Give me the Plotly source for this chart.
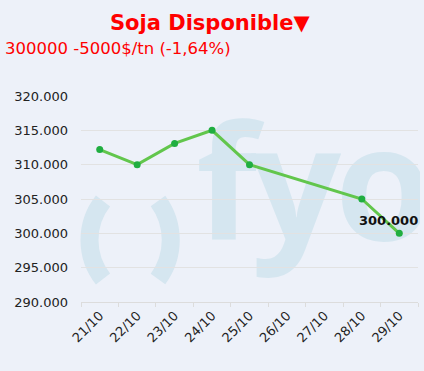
import base64
import plotly.graph_objects as go

dates = ["21/10", "22/10", "23/10", "24/10", "25/10", "26/10", "27/10", "28/10", "29/10"]
prices = [312200, 310000, 313100, 315000, 310000, None, None, 305000, 300000]
y_ticks = [290000, 295000, 300000, 305000, 310000, 315000, 320000]
title_text = "Soja Disponible▼"
subtitle_text = "300000 -5000$/tn (-1,64%)"
last_label = "300.000"

W, H = 424, 371
L, R, T, B = 81, 6, 96, 69
pw, ph = W - L - R, H - T - B

wm = "#d5e6f0"
svg = f'''<svg xmlns="http://www.w3.org/2000/svg" width="{W}" height="{H}" viewBox="0 0 {W} {H}">
<defs><clipPath id="c"><rect x="0" y="0" width="420" height="{H}"/></clipPath></defs>
<g clip-path="url(#c)">
<path d="M 103 201 A 63 63 0 0 0 103 279" fill="none" stroke="{wm}" stroke-width="18"/>
<path d="M 158 201 A 66 66 0 0 1 158 279" fill="none" stroke="{wm}" stroke-width="18"/>
<text x="196" y="240" font-family="Open Sans" font-weight="bold" font-size="158" fill="{wm}" letter-spacing="-6">fyo</text>
</g></svg>'''
src = "data:image/svg+xml;base64," + base64.b64encode(svg.encode()).decode()

fig = go.Figure()
fig.add_trace(go.Scatter(
    x=dates, y=prices, mode="lines+markers", connectgaps=True,
    line=dict(color="#62c64c", width=3),
    marker=dict(color="#20ae40", size=7),
    hoverinfo="skip", showlegend=False, cliponaxis=False,
))

fig.add_layout_image(dict(
    source=src, xref="paper", yref="paper",
    x=-L / pw, y=1 + T / ph, sizex=W / pw, sizey=H / ph,
    xanchor="left", yanchor="top", sizing="stretch", layer="below",
))

fig.add_annotation(x=dates[-1], y=prices[-1], text="<b>" + last_label + "</b>",
                   showarrow=False, xshift=-11, yshift=13,
                   font=dict(family="DejaVu Sans", size=13, color="#111"))
fig.add_annotation(xref="paper", yref="paper", x=(210 - L) / pw, y=1 + (T - 23) / ph,
                   text="<b>" + title_text + "</b>", showarrow=False,
                   xanchor="center", yanchor="middle",
                   font=dict(family="DejaVu Sans", size=21, color="#ff0000"))
fig.add_annotation(xref="paper", yref="paper", x=(3 - L) / pw, y=1 + (T - 48) / ph,
                   text=subtitle_text, showarrow=False,
                   xanchor="left", yanchor="middle",
                   font=dict(family="DejaVu Sans", size=16.5, color="#ff0000"))

fig.update_layout(
    width=W, height=H,
    margin=dict(l=L, r=R, t=T, b=B, pad=0, autoexpand=False),
    paper_bgcolor="#edf1f9", plot_bgcolor="rgba(0,0,0,0)",
    separators=",.",
    font=dict(family="DejaVu Sans", color="#222"),
)
fig.update_xaxes(
    type="category", categoryorder="array", categoryarray=dates,
    range=[-0.5, len(dates) - 0.5], automargin=False,
    tickson="boundaries", ticks="outside", ticklen=4, tickcolor="#dcdcdc",
    showgrid=False, showline=True, linecolor="#dcdcdc", linewidth=1,
    tickangle=-45, tickfont=dict(size=13, color="#222"),
    zeroline=False, fixedrange=True,
)
fig.update_yaxes(
    range=[290000, 320000], tickvals=y_ticks, tickformat=",d", automargin=False,
    showgrid=True, gridcolor="#e2e2e2", gridwidth=1,
    zeroline=False, showline=False, ticks="",
    tickfont=dict(size=13, color="#222"), ticklabelstandoff=12,
    fixedrange=True,
)

fig.write_html("out.html", config={"displayModeBar": False, "staticPlot": True},
               post_script="document.body.style.margin='0';document.body.style.background='#edf1f9';")
